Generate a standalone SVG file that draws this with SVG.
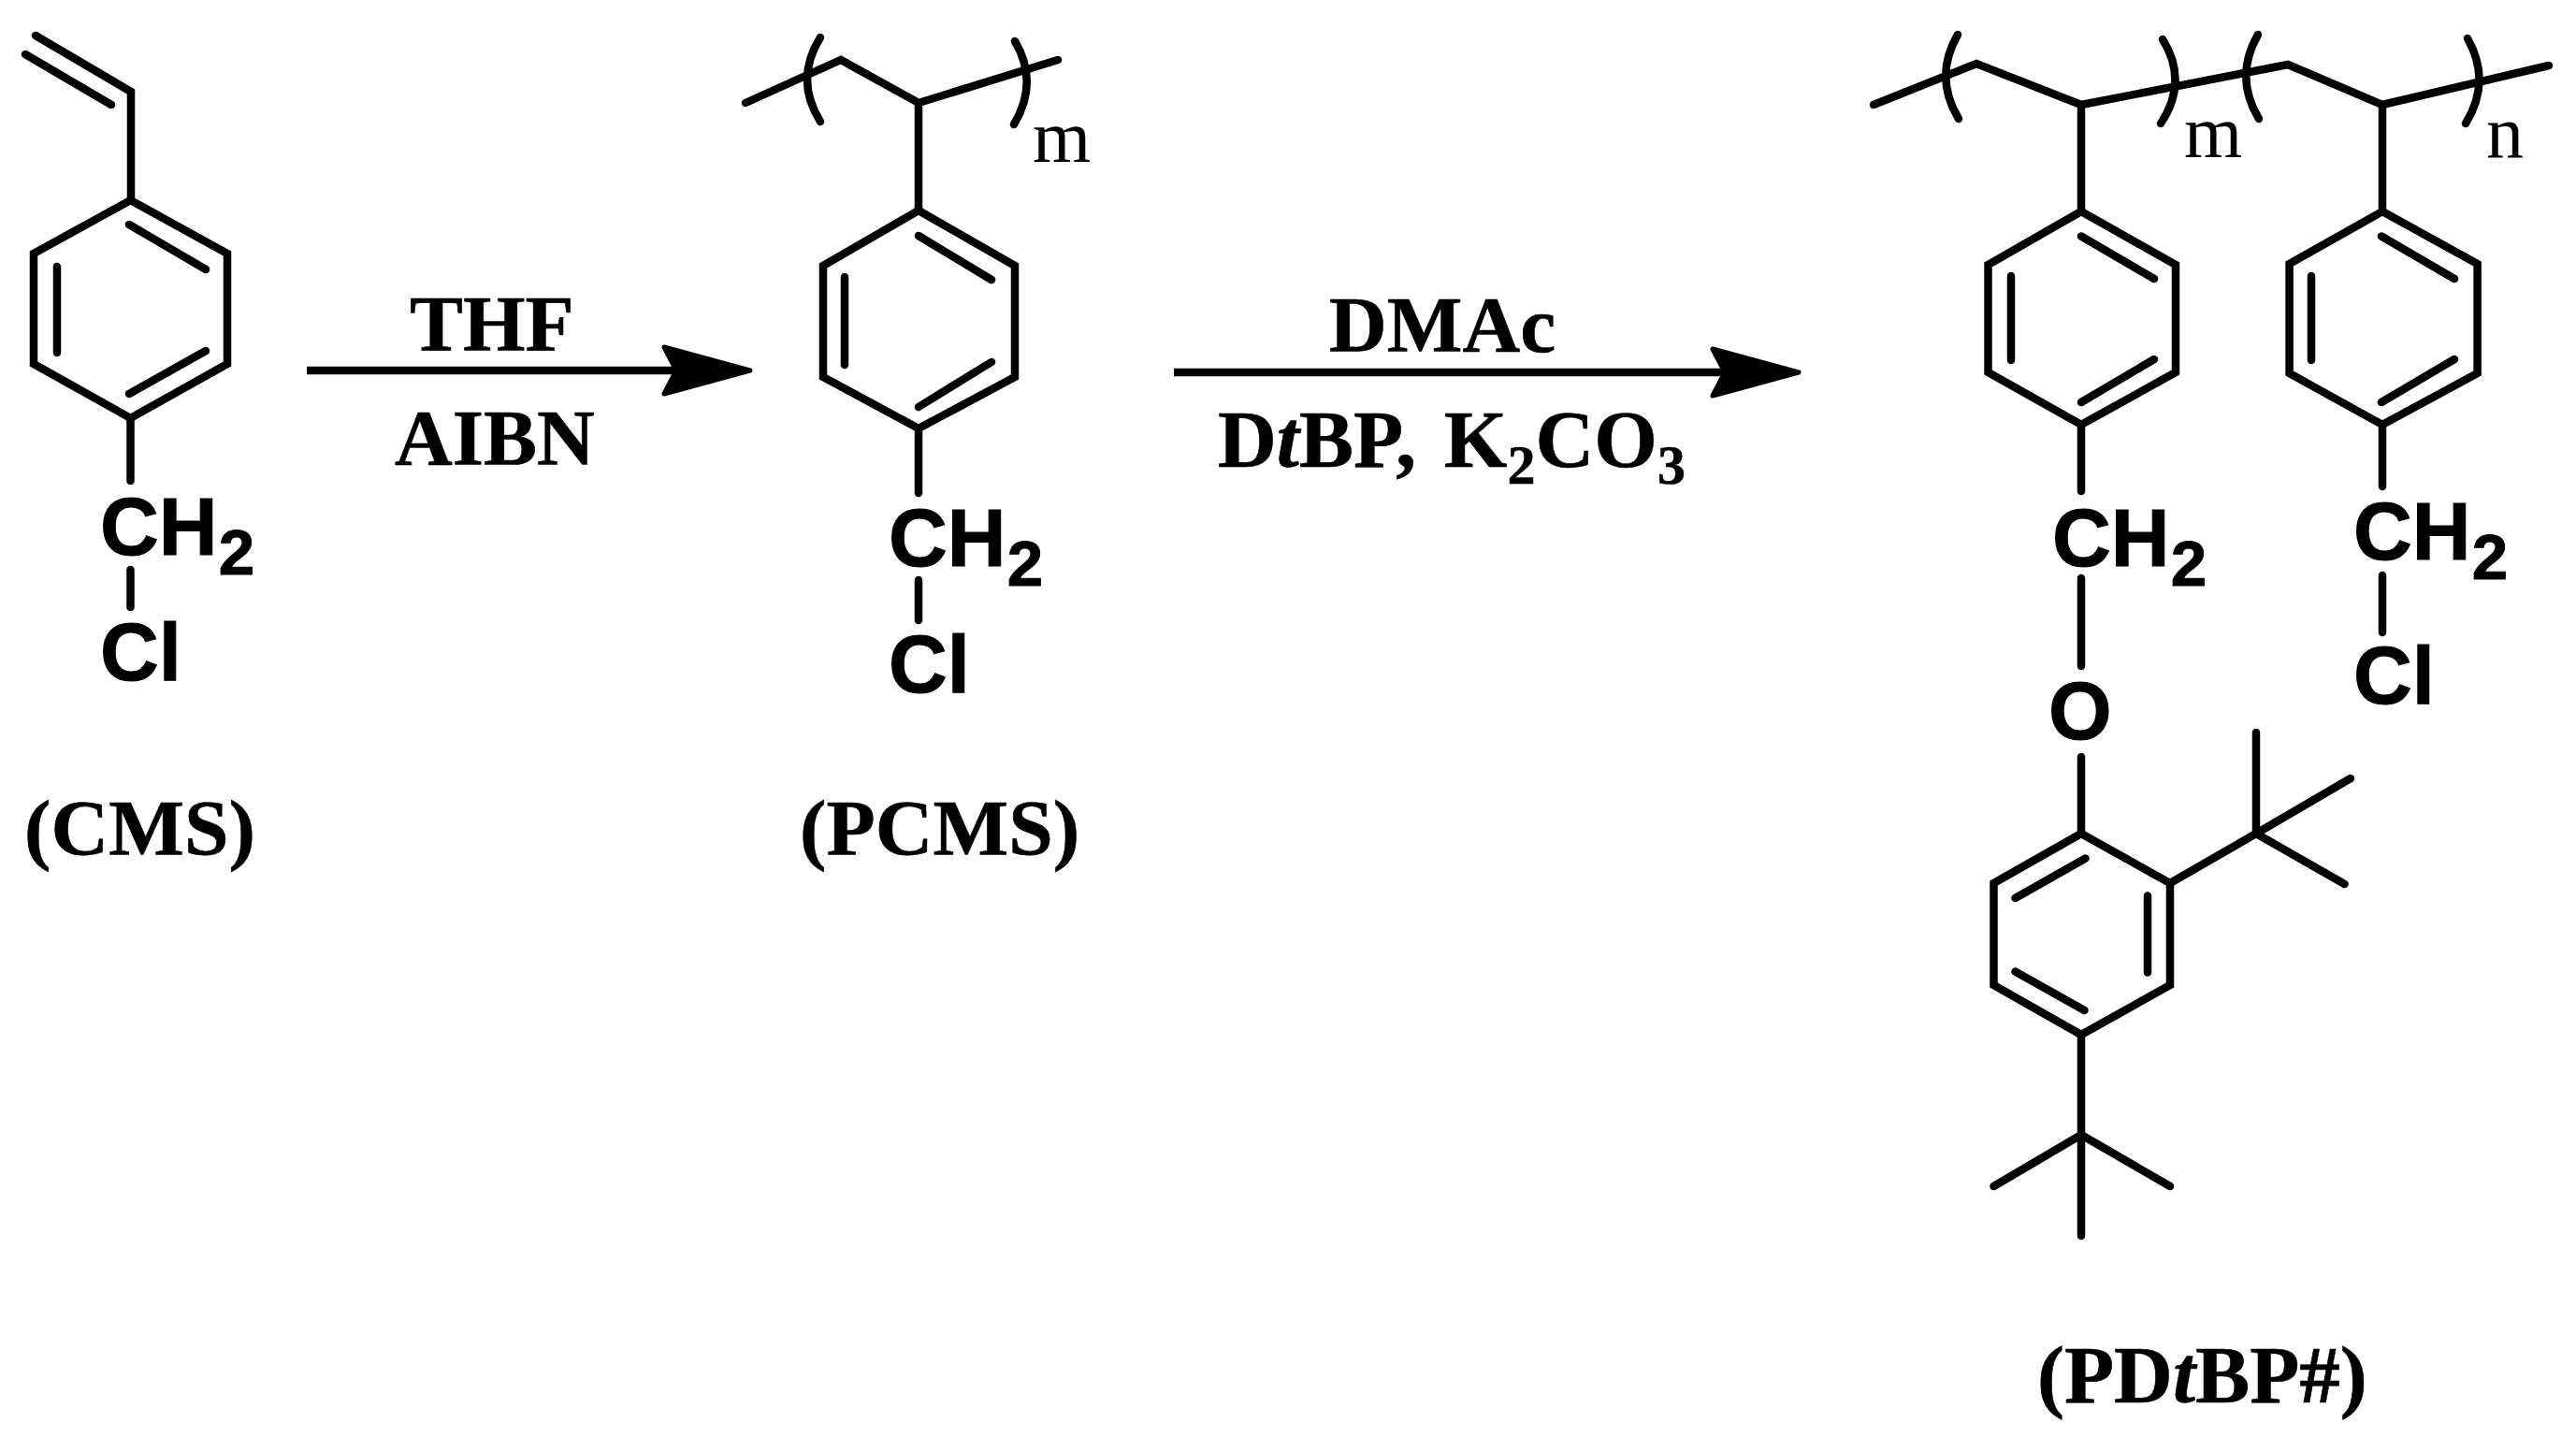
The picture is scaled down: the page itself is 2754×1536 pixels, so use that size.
<svg xmlns="http://www.w3.org/2000/svg" width="2754" height="1536" viewBox="0 0 2754 1536">
<style>
.b{fill:none;stroke:#000;stroke-width:8.5;stroke-linecap:round;stroke-linejoin:miter}
.a{font-family:"Liberation Sans",Arial,sans-serif;font-weight:700;font-size:87px;fill:#000;stroke:#000;stroke-width:1}
.a .s{font-size:69px}
.t{font-family:"Liberation Serif","Times New Roman",serif;font-weight:700;font-size:85.5px;fill:#000;stroke:#000;stroke-width:.6}
.t .s{font-size:60px}
.i{font-style:italic}
.r{font-family:"Liberation Serif","Times New Roman",serif;font-size:80px;fill:#000}
.c{fill:none;stroke:#000;stroke-width:8.5}
</style>
<defs>
<marker id="h" markerUnits="userSpaceOnUse" markerWidth="110" markerHeight="70" viewBox="-6 -35 110 70" refX="12" refY="0" orient="auto">
<path d="M0,-25 L92,0 L0,25 L13,0 Z" fill="#000" stroke="#000" stroke-width="5" stroke-linejoin="round"/>
</marker>
</defs>
<rect width="2754" height="1536" fill="#fff"/>
<g id="CMS">
<path class="b" d="M38,38 L140,98 L140,214 M27,58 L119,112"/>
<path class="b" d="M139.5,214 L243,271 L243,389 L139.5,447 L36,389 L36,271 Z"/>
<path class="b" d="M138,240 L220,288 M61,285 L61,377 M138,421 L220,375"/>
<path class="b" d="M139.5,447 L139.5,514 M139.5,609 L139.5,649"/>
<text class="a" x="107" y="593">CH<tspan class="s" dx="1" dy="21">2</tspan></text>
<text class="a" x="107" y="727">Cl</text>
<text class="t" x="26" y="914">(CMS)</text>
</g>
<g id="PCMS">
<path class="b" d="M797,110 L899,64 L982,110 L1131,64 M982,110 L982,225"/>
<path class="b" d="M877,40 Q849,85 877,130 M1085,44 Q1111,88 1084,133"/>
<path class="b" d="M982,225 L1085,284 L1085,403 L982,458 L880,403 L880,284 Z"/>
<path class="b" d="M982,252 L1060,299 M903,296 L903,390 M982,435 L1060,387"/>
<path class="b" d="M982,458 L982,527 M982,620 L982,663"/>
<text class="r" x="1104" y="173">m</text>
<text class="a" x="950" y="605">CH<tspan class="s" dx="1" dy="21">2</tspan></text>
<text class="a" x="950" y="740">Cl</text>
<text class="t" x="855" y="914">(PCMS)</text>
</g>
<g id="PDtBP">
<path class="b" d="M2003,112 L2113,68 L2225,112 L2446,69 L2547,112 L2725,70"/>
<path class="b" d="M2093,37 Q2067,82 2094,127 M2312,42 Q2340,87 2310,132 M2414,37 Q2388,82 2415,127 M2638,41 Q2664,87 2636,132"/>
<path class="b" d="M2225,112 L2225,226 M2547,112 L2547,226"/>
<path class="b" d="M2225,226 L2326,283 L2326,398 L2225,454 L2125.5,398 L2125.5,283 Z"/>
<path class="b" d="M2225,252.5 L2303,298 M2150,295 L2150,385 M2225,430 L2303,384"/>
<path class="b" d="M2547,226 L2648.6,282 L2648.6,399 L2547,454 L2447.6,399 L2447.6,282 Z"/>
<path class="b" d="M2546,252.5 L2624,298 M2471,295 L2471,385 M2546,430 L2624,384"/>
<path class="b" d="M2225,454 L2225,525 M2225,618 L2225,712 M2547,454 L2547,520 M2547,615 L2547,676"/>
<text class="r" x="2335" y="168">m</text>
<text class="r" x="2658" y="168">n</text>
<text class="a" x="2194" y="605">CH<tspan class="s" dx="1" dy="21">2</tspan></text>
<text class="a" x="2516" y="598">CH<tspan class="s" dx="1" dy="21">2</tspan></text>
<text class="a" x="2516" y="752">Cl</text>
<text class="a" x="2190" y="790">O</text>
<path class="b" d="M2225,809 L2225,891"/>
<path class="b" d="M2225,891 L2320,944 L2320,1053 L2225,1106 L2131.5,1053 L2131.5,944 Z"/>
<path class="b" d="M2229.5,917.5 L2154.5,960 M2296,957.5 L2296,1039.5 M2154.5,1038.5 L2228.5,1080"/>
<path class="b" d="M2320,944 L2412,891 M2412,783 L2412,891 M2412,891 L2513,832 M2412,891 L2506.6,945"/>
<path class="b" d="M2225,1106 L2225,1321 M2131.5,1268 L2225,1213 L2320,1268"/>
<text class="t" x="2178" y="1499" style="font-size:87px">(PD<tspan class="i">t</tspan>BP#)</text>
</g>
<g id="connectors">
<line class="c" x1="328" y1="396" x2="722" y2="396" marker-end="url(#h)"/>
<line class="c" x1="1255" y1="398" x2="1843" y2="398" marker-end="url(#h)"/>
</g>
<g id="conditions">
<text class="t" x="438" y="375">THF</text>
<text class="t" x="422" y="497">AIBN</text>
<text class="t" x="1421" y="376">DMAc</text>
<text class="t" x="1302" y="499" style="font-size:87px">D<tspan class="i">t</tspan>BP, <tspan dx="8">K</tspan><tspan class="s" dy="18">2</tspan><tspan dy="-18">CO</tspan><tspan class="s" dy="18">3</tspan></text>
</g>
</svg>
